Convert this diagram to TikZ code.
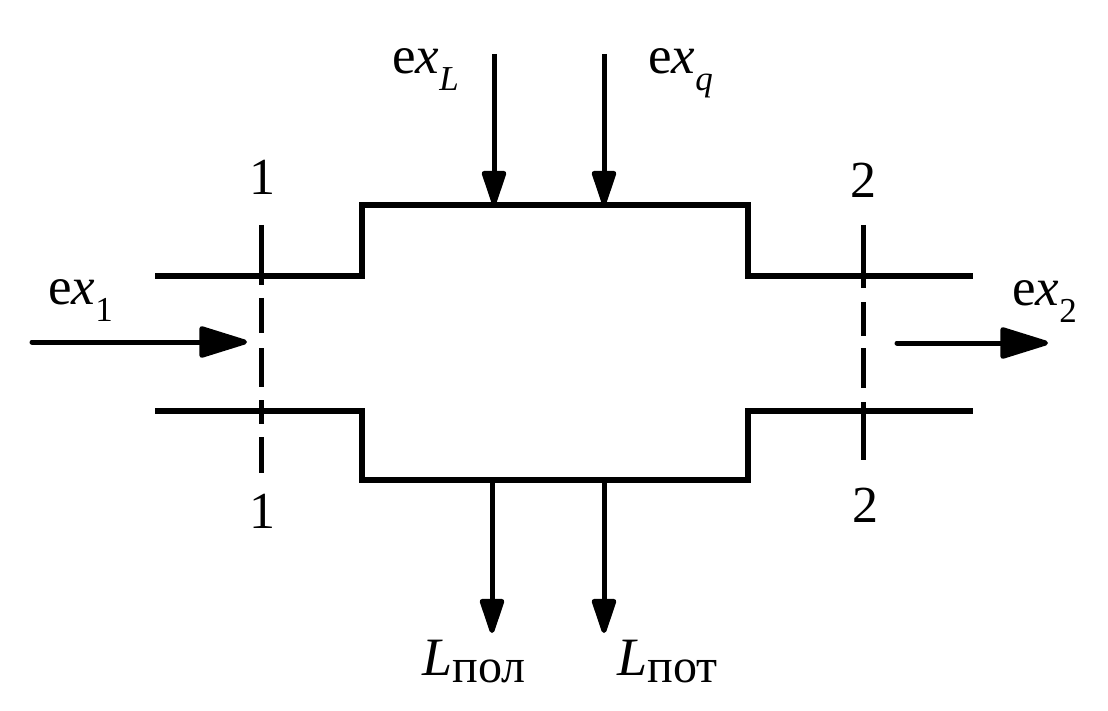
\documentclass[tikz,border=0pt]{standalone}
\usepackage{fontspec}
\setmainfont{Liberation Serif}
\usetikzlibrary{arrows.meta}
\newcommand{\exs}[1]{e\textit{x}\raisebox{-8.5pt}{\fontsize{17.5}{17.5}\selectfont #1}}
\newcommand{\Lsub}[1]{{\fontsize{27}{27}\selectfont\textit{L}}\raisebox{-3.5pt}{\fontsize{24}{24}\selectfont #1}}
\begin{document}
\begin{tikzpicture}[x=0.5pt,y=-0.5pt,
  pipe/.style={line width=3pt,line join=miter},
  hflow/.style={line width=2.5pt,line cap=round,-{Triangle[length=27pt,width=16pt,round]}},
  vflow/.style={line width=2.5pt,-{Triangle[length=20pt,width=12.5pt,round]}},
  cut/.style={line width=2.5pt},
  lbl/.style={inner sep=0pt,anchor=base west,font=\fontsize{26.5}{30}\selectfont},
  num/.style={inner sep=0pt,anchor=base,font=\fontsize{26}{30}\selectfont}]
\useasboundingbox (0,0) rectangle (1108,711);
% channel outline
\draw[pipe] (155,276) -- (362,276) -- (362,205) -- (748,205) -- (748,276) -- (973,276);
\draw[pipe] (155,411) -- (362,411) -- (362,480) -- (748,480) -- (748,411) -- (973,411);
% control sections
\draw[cut,dash pattern=on 30pt off 6.5pt on 17.5pt off 7.5pt on 19.5pt off 6.5pt on 12pt off 6.5pt on 18pt]
  (261,225) -- (261,473);
\draw[cut,dash pattern=on 31.5pt off 7pt on 17pt off 6pt on 20pt off 7pt on 29pt]
  (863,225) -- (863,460);
% coordinates for flows
\coordinate (in1s) at (32,342);   \coordinate (in1e) at (247,342);
\coordinate (out2s) at (897,343); \coordinate (out2e) at (1048,343);
\coordinate (exLs) at (494,54);   \coordinate (exLe) at (494,205);
\coordinate (exqs) at (604,54);   \coordinate (exqe) at (604,205);
\coordinate (Lps) at (492,480);   \coordinate (Lpe) at (492,633);
\coordinate (Lts) at (604,480);   \coordinate (Lte) at (604,633);
\draw[hflow] (in1s) -- (in1e);
\draw[hflow] (out2s) -- (out2e);
\draw[vflow] (exLs) -- (exLe);
\draw[vflow] (exqs) -- (exqe);
\draw[vflow] (Lps) -- (Lpe);
\draw[vflow] (Lts) -- (Lte);
% labels
\node[lbl] (tex1) at (48,305) {\exs{1}};
\node[lbl] (tex2) at (1012,306) {\exs{2}};
\node[lbl] (texL) at (392,74) {\exs{\textit{L}}};
\node[lbl] (texq) at (648,74) {\exs{\textit{q}}};
\node[lbl] (tLpol) at (422,675) {\Lsub{пол}};
\node[lbl] (tLpot) at (617,675) {\Lsub{пот}};
\node[num] (n1a) at (262,195) {1};
\node[num] (n1b) at (262,528) {1};
\node[num] (n2a) at (863,198) {2};
\node[num] (n2b) at (865,522) {2};
\end{tikzpicture}
\end{document}
